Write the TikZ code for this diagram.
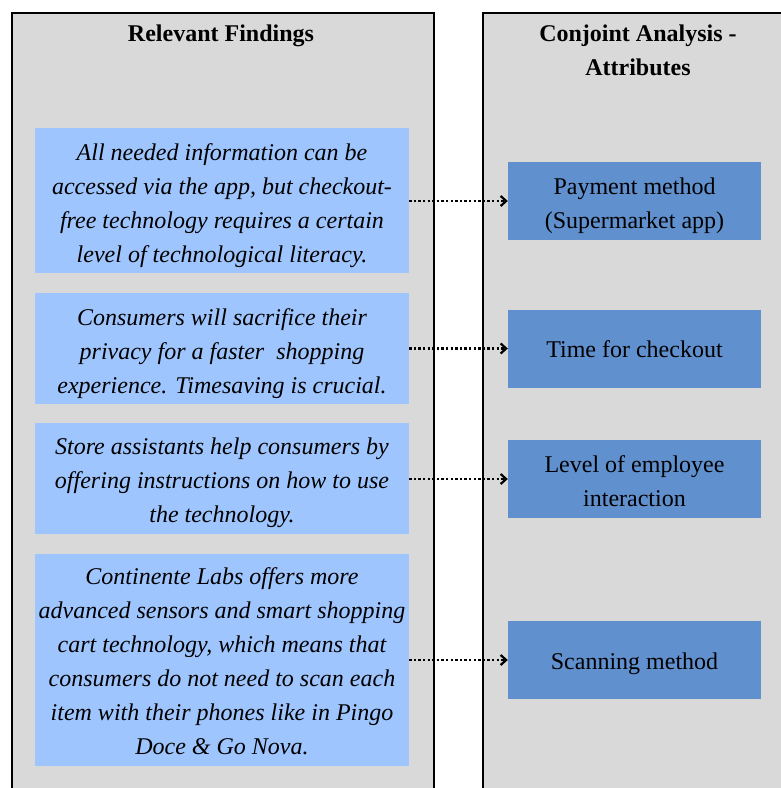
\documentclass[tikz,border=0pt]{standalone}
\usepackage{fontspec}
\setmainfont{Liberation Serif}
\usetikzlibrary{arrows.meta}
\definecolor{panelgray}{HTML}{D9D9D9}
\definecolor{findingblue}{HTML}{9FC5FE}
\definecolor{attrblue}{HTML}{6190CF}
\begin{document}
\begin{tikzpicture}[x=1pt,y=-1pt,
  txt/.style={font=\fontsize{24}{34}\selectfont, inner sep=0pt, align=center},
  panel/.style={fill=panelgray, draw=black, line width=2pt},
  finding/.style={fill=findingblue, draw=none, minimum width=374pt, inner sep=0pt},
  findingtext/.style={inner sep=0pt, align=center, font=\fontsize{24}{34}\selectfont\itshape},
  attribute/.style={fill=attrblue, draw=none, minimum width=253pt, minimum height=78pt, inner sep=0pt},
  attrtext/.style={inner sep=0pt, align=center, font=\fontsize{24}{34}\selectfont},
  link/.style={dash pattern=on 2.4pt off 2.2pt, line width=2.4pt,
    -{Straight Barb[length=5.5pt,width=10pt,line width=2.2pt]}}]
\useasboundingbox (0,0) rectangle (781,788);
\clip (0,0) rectangle (781,788);
\fill[white] (0,0) rectangle (781,788);

% two column panels
\draw[panel] (12,13) rectangle (434,820);
\draw[panel] (483,13) rectangle (820,820);

% column headings
\node[txt, font=\fontsize{24}{34}\selectfont\bfseries] (h1) at (221,36) {Relevant Findings};
\node[txt, font=\fontsize{24}{34}\selectfont\bfseries] (h2) at (638,50) {Conjoint Analysis -\\Attributes};

% findings
\node[finding, minimum height=145pt] (f1) at (222,200.5) {};
\node[finding, minimum height=111pt] (f2) at (222,348.5) {};
\node[finding, minimum height=111pt] (f3) at (222,478.5) {};
\node[finding, minimum height=212pt] (f4) at (222,660) {};
\node[findingtext, yshift=-5pt] (f1t) at (f1.center)
  {All needed information can be\\accessed via the app, but checkout-\\free technology requires a certain\\level of technological literacy.};
\node[findingtext, yshift=-5pt] (f2t) at (f2.center)
  {Consumers will sacrifice their\\privacy for a faster\ \ shopping\\experience. Timesaving is crucial.};
\node[findingtext, yshift=-4pt] (f3t) at (f3.center)
  {Store assistants help consumers by\\offering instructions on how to use\\the technology.};
\node[findingtext, yshift=-1pt] (f4t) at (f4.center)
  {Continente Labs offers more\\advanced sensors and smart shopping\\cart technology, which means that\\consumers do not need to scan each\\item with their phones like in Pingo\\Doce \& Go Nova.};

% attributes
\node[attribute] (a1) at (634.5,201) {};
\node[attribute] (a2) at (634.5,348.5) {};
\node[attribute] (a3) at (634.5,479) {};
\node[attribute] (a4) at (634.5,660) {};
\node[attrtext, yshift=-5pt] (a1t) at (a1.center) {Payment method\\(Supermarket app)};
\node[attrtext, yshift=-1pt] (a2t) at (a2.center) {Time for checkout};
\node[attrtext, yshift=-2pt] (a3t) at (a3.center) {Level of employee\\interaction};
\node[attrtext, yshift=-4pt] (a4t) at (a4.center) {Scanning method};

% links
\draw[link] (f1.east |- a1.west) -- (a1.west);
\draw[link] (f2.east |- a2.west) -- (a2.west);
\draw[link] (f3.east |- a3.west) -- (a3.west);
\draw[link] (f4.east |- a4.west) -- (a4.west);
\end{tikzpicture}
\end{document}
